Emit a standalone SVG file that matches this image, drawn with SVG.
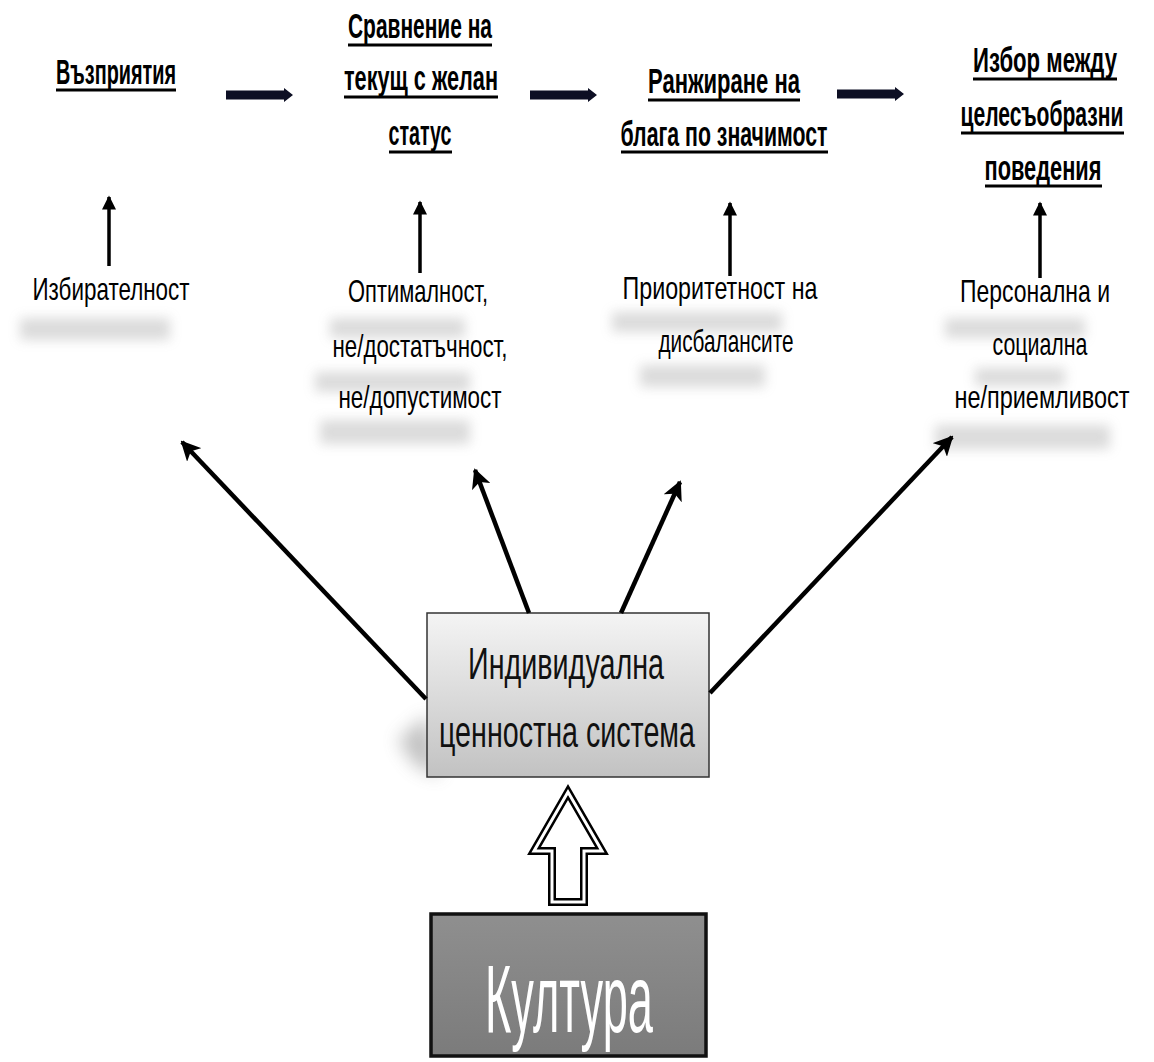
<svg xmlns="http://www.w3.org/2000/svg" width="1154" height="1062" viewBox="0 0 1154 1062">
<defs>
<style>
.h{font-family:"Liberation Sans",Arial,sans-serif;font-weight:bold;font-size:35px;fill:#000;text-anchor:middle}
.l{font-family:"Liberation Sans",Arial,sans-serif;font-size:32px;fill:#000;text-anchor:middle}
.ul{stroke:#000;stroke-width:3}
.thin{stroke:#000;stroke-width:3.5;fill:none}
.diag{stroke:#000;stroke-width:4.5;fill:none}
.bar{fill:#0d0f24}
.refl{fill:#9a9a9a;opacity:0.35;filter:url(#blur)}
</style>
<filter id="blur" x="-20%" y="-60%" width="140%" height="220%"><feGaussianBlur stdDeviation="6"/></filter>
<filter id="blur2" x="-80%" y="-80%" width="260%" height="260%"><feGaussianBlur stdDeviation="9"/></filter>
<filter id="glow" x="-20%" y="-100%" width="140%" height="300%"><feGaussianBlur stdDeviation="3"/></filter>
<linearGradient id="gIVS" x1="0" y1="0" x2="0" y2="1"><stop offset="0" stop-color="#f4f4f4"/><stop offset="1" stop-color="#c2c2c2"/></linearGradient>
<linearGradient id="gK" x1="0" y1="0" x2="0" y2="1"><stop offset="0" stop-color="#8f8f8f"/><stop offset="1" stop-color="#7b7b7b"/></linearGradient>
<marker id="ah" viewBox="0 0 10 10" refX="9" refY="5" markerWidth="4.4" markerHeight="4.4" orient="auto" markerUnits="strokeWidth"><path d="M0,0 L10,5 L0,10 L2.5,5 Z" fill="#000"/></marker>
<marker id="ahs" viewBox="0 0 10 10" refX="9" refY="5" markerWidth="4.4" markerHeight="4" orient="auto" markerUnits="strokeWidth"><path d="M0,0 L10,5 L0,10 Z" fill="#000"/></marker>
<path id="hbar" d="M0,-4.5 L58,-4.5 L58,-7 L67,0 L58,7 L58,4.5 L0,4.5 Z"/>
</defs>
<rect width="1154" height="1062" fill="#fff"/>

<g id="reflections">
<rect class="refl" x="20" y="318" width="150" height="22"/>
<rect class="refl" x="330" y="318" width="135" height="20"/>
<rect class="refl" x="315" y="372" width="155" height="20"/>
<rect class="refl" x="320" y="420" width="150" height="24"/>
<rect class="refl" x="612" y="312" width="170" height="20"/>
<rect class="refl" x="640" y="365" width="125" height="22"/>
<rect class="refl" x="945" y="318" width="140" height="20"/>
<rect class="refl" x="975" y="368" width="90" height="18"/>
<rect class="refl" x="935" y="425" width="175" height="24"/>
</g>

<g id="n-vospriyatiya">
<text class="h" x="116" y="84" textLength="120" lengthAdjust="spacingAndGlyphs">Възприятия</text>
<line class="ul" x1="56" y1="90" x2="176" y2="90"/>
</g>
<g id="n-sravnenie">
<text class="h" x="420" y="38" textLength="144" lengthAdjust="spacingAndGlyphs">Сравнение на</text>
<line class="ul" x1="348" y1="45" x2="492" y2="45"/>
<text class="h" x="421" y="90" textLength="154" lengthAdjust="spacingAndGlyphs">текущ с желан</text>
<line class="ul" x1="344" y1="97" x2="498" y2="97"/>
<text class="h" x="420" y="145" textLength="63" lengthAdjust="spacingAndGlyphs">статус</text>
<line class="ul" x1="389" y1="152" x2="452" y2="152"/>
</g>
<g id="n-ranzhirane">
<text class="h" x="724" y="93" textLength="152" lengthAdjust="spacingAndGlyphs">Ранжиране на</text>
<line class="ul" x1="648" y1="100" x2="800" y2="100"/>
<text class="h" x="724" y="146" textLength="207" lengthAdjust="spacingAndGlyphs">блага по значимост</text>
<line class="ul" x1="621" y1="152" x2="828" y2="152"/>
</g>
<g id="n-izbor">
<text class="h" transform="translate(1045,0) scale(0.7,1)" x="0" y="72" textLength="205.7" lengthAdjust="spacingAndGlyphs">Избор между</text>
<line class="ul" x1="973" y1="79" x2="1117" y2="79"/>
<text class="h" transform="translate(1042,0) scale(0.7,1)" x="0" y="126" textLength="232.9" lengthAdjust="spacingAndGlyphs">целесъобразни</text>
<line class="ul" x1="961" y1="133" x2="1124" y2="133"/>
<text class="h" transform="translate(1043,0) scale(0.7,1)" x="0" y="180" textLength="167.1" lengthAdjust="spacingAndGlyphs">поведения</text>
<line class="ul" x1="985" y1="186" x2="1102" y2="186"/>
</g>

<g id="n-izbiratelnost">
<text class="l" x="111" y="300" textLength="157" lengthAdjust="spacingAndGlyphs">Избирателност</text>
</g>
<g id="n-optimalnost">
<text class="l" x="418" y="302" textLength="140" lengthAdjust="spacingAndGlyphs">Оптималност,</text>
<text class="l" x="420" y="357" textLength="175" lengthAdjust="spacingAndGlyphs">не/достатъчност,</text>
<text class="l" x="420" y="408" textLength="163" lengthAdjust="spacingAndGlyphs">не/допустимост</text>
</g>
<g id="n-prioritetnost">
<text class="l" x="720" y="299" textLength="195" lengthAdjust="spacingAndGlyphs">Приоритетност на</text>
<text class="l" x="726" y="352" textLength="135" lengthAdjust="spacingAndGlyphs">дисбалансите</text>
</g>
<g id="n-personalna">
<text class="l" transform="translate(1035,0) scale(0.7,1)" x="0" y="302" textLength="214.3" lengthAdjust="spacingAndGlyphs">Персонална и</text>
<text class="l" transform="translate(1040,0) scale(0.7,1)" x="0" y="355" textLength="135.7" lengthAdjust="spacingAndGlyphs">социална</text>
<text class="l" transform="translate(1042,0) scale(0.7,1)" x="0" y="408" textLength="250" lengthAdjust="spacingAndGlyphs">не/приемливост</text>
</g>

<g id="n-ivs">
<path d="M428,715 L398,740 L415,765 L440,777 Z" fill="#666" opacity="0.4" filter="url(#blur2)"/>
<rect x="427" y="613" width="282" height="164" fill="url(#gIVS)" stroke="#333" stroke-width="1.5"/>
<text x="566" y="679" font-family="Liberation Sans, Arial, sans-serif" font-size="44" text-anchor="middle" fill="#111" textLength="196" lengthAdjust="spacingAndGlyphs">Индивидуална</text>
<text x="567" y="747" font-family="Liberation Sans, Arial, sans-serif" font-size="44" text-anchor="middle" fill="#111" textLength="256" lengthAdjust="spacingAndGlyphs">ценностна система</text>
</g>

<g id="n-kultura">
<rect x="431" y="914" width="275" height="142" fill="url(#gK)" stroke="#111" stroke-width="3.5"/>
<text x="569" y="1032" font-family="Liberation Sans, Arial, sans-serif" font-size="96" text-anchor="middle" fill="#fff" textLength="168" lengthAdjust="spacingAndGlyphs">Култура</text>
</g>

<g id="connectors">
<line x1="226" y1="98" x2="292" y2="98" stroke="#d8d0b0" stroke-width="14" opacity="0.35" filter="url(#glow)"/>
<line x1="530" y1="98" x2="595" y2="98" stroke="#d8d0b0" stroke-width="14" opacity="0.35" filter="url(#glow)"/>
<line x1="837" y1="97" x2="904" y2="97" stroke="#d8d0b0" stroke-width="14" opacity="0.35" filter="url(#glow)"/>
<use href="#hbar" class="bar" x="226" y="95"/>
<use href="#hbar" class="bar" x="530" y="95"/>
<use href="#hbar" class="bar" x="837" y="94"/>
<line class="thin" x1="109" y1="266" x2="109" y2="197" marker-end="url(#ahs)"/>
<line class="thin" x1="420" y1="273" x2="420" y2="202" marker-end="url(#ahs)"/>
<line class="thin" x1="730" y1="276" x2="730" y2="203" marker-end="url(#ahs)"/>
<line class="thin" x1="1040" y1="278" x2="1040" y2="203" marker-end="url(#ahs)"/>
<line class="diag" x1="426" y1="699" x2="182" y2="442" marker-end="url(#ah)"/>
<line class="diag" x1="529" y1="613" x2="475" y2="470" marker-end="url(#ah)"/>
<line class="diag" x1="621" y1="613" x2="680" y2="482" marker-end="url(#ah)"/>
<line class="diag" x1="710" y1="693" x2="952" y2="437" marker-end="url(#ah)"/>
<polygon points="568,792 602,851 584,851 584,902 552,902 552,851 534,851" fill="#fff" stroke="#000" stroke-width="8" stroke-linejoin="miter"/>
<polygon points="568,792 602,851 584,851 584,902 552,902 552,851 534,851" fill="none" stroke="#fff" stroke-width="3" stroke-linejoin="miter"/>
</g>
</svg>
